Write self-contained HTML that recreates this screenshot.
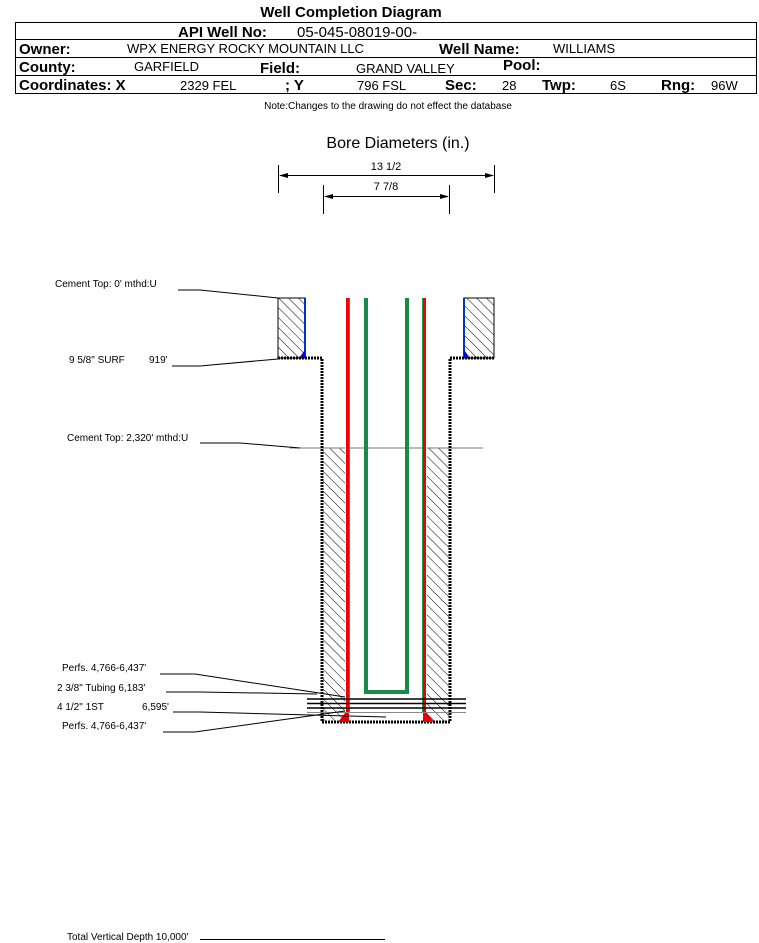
<!DOCTYPE html>
<html><head><meta charset="utf-8"><style>
html,body{margin:0;padding:0;background:#fff;}
svg{display:block;font-family:"Liberation Sans",sans-serif;}
</style></head><body>
<svg width="759" height="943" viewBox="0 0 759 943" xmlns="http://www.w3.org/2000/svg">
<defs>
<pattern id="h" patternUnits="userSpaceOnUse" width="7" height="7" patternTransform="rotate(-45)">
<rect width="7" height="7" fill="#fff"/><line x1="0" y1="0" x2="0" y2="7" stroke="#000" stroke-width="1"/>
</pattern>
</defs>
<!-- header -->
<text x="351" y="17" font-size="15" font-weight="bold" text-anchor="middle">Well Completion Diagram</text>
<rect x="15.5" y="22.5" width="741" height="71" fill="none" stroke="#000"/>
<line x1="16" y1="39.5" x2="756" y2="39.5" stroke="#000"/>
<line x1="16" y1="57.5" x2="756" y2="57.5" stroke="#000"/>
<line x1="16" y1="75.5" x2="756" y2="75.5" stroke="#000"/>
<text x="178" y="37" font-size="15" font-weight="bold">API Well No:</text>
<text x="297" y="37" font-size="15">05-045-08019-00-</text>
<text x="19" y="54" font-size="15" font-weight="bold">Owner:</text>
<text x="127" y="53" font-size="13">WPX ENERGY ROCKY MOUNTAIN LLC</text>
<text x="439" y="54" font-size="15" font-weight="bold">Well Name:</text>
<text x="553" y="53" font-size="13">WILLIAMS</text>
<text x="19" y="72" font-size="15" font-weight="bold">County:</text>
<text x="134" y="71" font-size="13">GARFIELD</text>
<text x="260" y="73" font-size="15" font-weight="bold">Field:</text>
<text x="356" y="73" font-size="13">GRAND VALLEY</text>
<text x="503" y="70" font-size="15" font-weight="bold">Pool:</text>
<text x="19" y="90" font-size="15" font-weight="bold">Coordinates: X</text>
<text x="180" y="90" font-size="13">2329 FEL</text>
<text x="285" y="90" font-size="15" font-weight="bold">; Y</text>
<text x="357" y="90" font-size="13">796 FSL</text>
<text x="445" y="90" font-size="15" font-weight="bold">Sec:</text>
<text x="502" y="90" font-size="13">28</text>
<text x="542" y="90" font-size="15" font-weight="bold">Twp:</text>
<text x="610" y="90" font-size="13">6S</text>
<text x="661" y="90" font-size="15" font-weight="bold">Rng:</text>
<text x="711" y="90" font-size="13">96W</text>
<text x="388" y="109" font-size="10" text-anchor="middle">Note:Changes to the drawing do not effect the database</text>

<!-- bore diameters -->
<text x="398" y="148" font-size="16" text-anchor="middle">Bore Diameters (in.)</text>
<text x="386" y="170" font-size="11" text-anchor="middle">13 1/2</text>
<text x="386" y="190" font-size="11" text-anchor="middle">7 7/8</text>
<g stroke="#000">
<line x1="278.5" y1="165" x2="278.5" y2="193"/><line x1="494.5" y1="165" x2="494.5" y2="193"/>
<line x1="280" y1="175.5" x2="493" y2="175.5"/>
<line x1="323.5" y1="185" x2="323.5" y2="214"/><line x1="449.5" y1="185" x2="449.5" y2="214"/>
<line x1="325" y1="196.5" x2="448" y2="196.5"/>
</g>
<polygon points="279,175.5 288,173 288,178" fill="#000"/>
<polygon points="494,175.5 485,173 485,178" fill="#000"/>
<polygon points="324,196.5 333,194 333,199" fill="#000"/>
<polygon points="449,196.5 440,194 440,199" fill="#000"/>

<!-- surface cement -->
<rect x="278" y="298" width="27" height="60" fill="url(#h)" stroke="#000"/>
<rect x="464" y="298" width="30" height="60" fill="url(#h)" stroke="#000"/>
<line x1="305" y1="298" x2="305" y2="358" stroke="#0033cc" stroke-width="2"/>
<line x1="464" y1="298" x2="464" y2="358" stroke="#0033cc" stroke-width="2"/>
<polygon points="299,358 305,350 305,358" fill="#0000ff"/>
<polygon points="470,358 464,350 464,358" fill="#0000ff"/>

<!-- second cement -->
<rect x="323" y="448" width="22" height="274" fill="url(#h)"/>
<rect x="427" y="448" width="22" height="274" fill="url(#h)"/>
<line x1="290" y1="448" x2="483" y2="448" stroke="#777"/>

<!-- casing outline -->
<polyline points="278,358 322,358 322,722 450,722 450,358 494,358" fill="none" stroke="#000" stroke-width="3" stroke-dasharray="2,1"/>

<!-- production casing -->
<rect x="345" y="298" width="5" height="415" fill="#fff"/>
<rect x="346" y="298" width="3" height="415" fill="#e00"/>
<rect x="349" y="298" width="1" height="415" fill="#2a9a4a"/>
<rect x="422" y="298" width="5" height="415" fill="#fff"/>
<rect x="423" y="298" width="3" height="415" fill="#e00"/>
<rect x="422" y="298" width="1" height="415" fill="#2a9a4a"/>
<polygon points="338,722 349,708 349,722" fill="#e00"/>
<polygon points="434,722 423,708 423,722" fill="#e00"/>

<!-- tubing -->
<polyline points="366,298 366,692 407,692 407,298" fill="none" stroke="#1a8a4a" stroke-width="4"/>

<!-- horizontal lines -->
<g stroke="#000" stroke-width="1.5">
<line x1="307" y1="699" x2="466" y2="699"/>
<line x1="307" y1="703.5" x2="466" y2="703.5"/>
<line x1="307" y1="708" x2="466" y2="708"/>
</g>
<line x1="307" y1="712.5" x2="466" y2="712.5" stroke="#888"/>

<!-- labels -->
<g font-size="10" fill="#000">
<text x="55" y="287">Cement Top: 0' mthd:U</text>
<text x="69" y="363">9 5/8" SURF</text><text x="149" y="363">919'</text>
<text x="67" y="441">Cement Top: 2,320' mthd:U</text>
<text x="62" y="671">Perfs. 4,766-6,437'</text>
<text x="57" y="691">2 3/8" Tubing 6,183'</text>
<text x="57" y="710">4 1/2" 1ST</text><text x="142" y="710">6,595'</text>
<text x="62" y="729">Perfs. 4,766-6,437'</text>
<text x="67" y="940">Total Vertical Depth 10,000'</text>
</g>
<g stroke="#000" fill="none">
<polyline points="178,290 200,290 278,298"/>
<polyline points="172,366 200,366 278,359"/>
<polyline points="200,443 240,443 300,448"/>
<polyline points="160,674 195,674 345,697"/>
<polyline points="166,692 200,692 317,694"/>
<polyline points="173,712 200,712 386,717"/>
<polyline points="163,732 195,732 345,711"/>
<line x1="200" y1="939.5" x2="385" y2="939.5"/>
</g>
</svg>
</body></html>
